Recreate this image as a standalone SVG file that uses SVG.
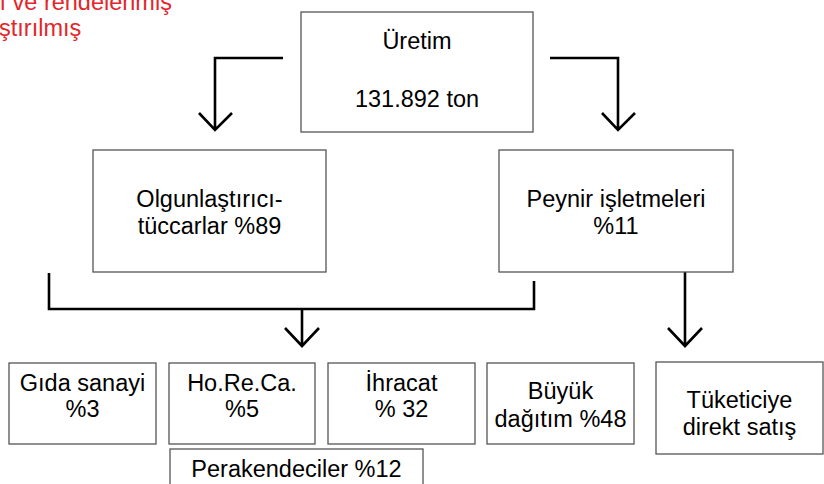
<svg xmlns="http://www.w3.org/2000/svg" width="824" height="484" viewBox="0 0 824 484">
<style>
.box{fill:#fff;stroke:#555;stroke-width:1.3}
.t{font-family:"Liberation Sans",Arial,sans-serif;font-size:23.5px;fill:#000;text-anchor:middle}
.red{font-family:"Liberation Sans",Arial,sans-serif;font-size:23.5px;fill:#e3262b}
.c{fill:none;stroke:#000;stroke-width:2.6;stroke-linejoin:miter}
</style>
<rect width="824" height="484" fill="#fff"/>
<g id="note">
<text class="red" x="-0.5" y="10">ı ve rendelenmiş</text>
<text class="red" x="-1" y="36">ştırılmış</text>
</g>
<g id="connectors">
<path class="c" d="M283,58 H215 V130 M199,113 L215,130 L232,113"/>
<path class="c" d="M550,58 H618 V130 M602,113 L618,130 L635,113"/>
<path class="c" d="M49,273 V309 H534 V281 M302,309 V346 M285,328 L302,346 L319,328"/>
<path class="c" d="M685,272 V346 M668,328 L685,346 L702,328"/>
</g>
<g id="uretim">
<rect class="box" x="301" y="12" width="232" height="120"/>
<text class="t" x="417" y="49">Üretim</text>
<text class="t" x="417" y="107">131.892 ton</text>
</g>
<g id="olgunlastirici">
<rect class="box" x="93" y="150" width="233" height="122"/>
<text class="t" x="209.5" y="207">Olgunlaştırıcı-</text>
<text class="t" x="209.5" y="234">tüccarlar %89</text>
</g>
<g id="peynir">
<rect class="box" x="499" y="150" width="234" height="122"/>
<text class="t" x="616" y="207">Peynir işletmeleri</text>
<text class="t" x="616" y="234">%11</text>
</g>
<g id="gida">
<rect class="box" x="9" y="363" width="147" height="81"/>
<text class="t" x="82.5" y="391">Gıda sanayi</text>
<text class="t" x="82.5" y="417">%3</text>
</g>
<g id="horeca">
<rect class="box" x="169" y="363" width="146" height="81"/>
<text class="t" x="242" y="391">Ho.Re.Ca.</text>
<text class="t" x="242" y="417">%5</text>
</g>
<g id="ihracat">
<rect class="box" x="328" y="363" width="147" height="81"/>
<text class="t" x="401.5" y="391">İhracat</text>
<text class="t" x="401.5" y="417">% 32</text>
</g>
<g id="perakende">
<rect class="box" x="170" y="449" width="253" height="40"/>
<text class="t" x="296.5" y="477">Perakendeciler %12</text>
</g>
<g id="buyuk">
<rect class="box" x="487" y="363" width="147" height="81"/>
<text class="t" x="560.5" y="399">Büyük</text>
<text class="t" x="560.5" y="427">dağıtım %48</text>
</g>
<g id="tuketici">
<rect class="box" x="656" y="362" width="167" height="92"/>
<text class="t" x="739.5" y="408">Tüketiciye</text>
<text class="t" x="739.5" y="435">direkt satış</text>
</g>
</svg>
